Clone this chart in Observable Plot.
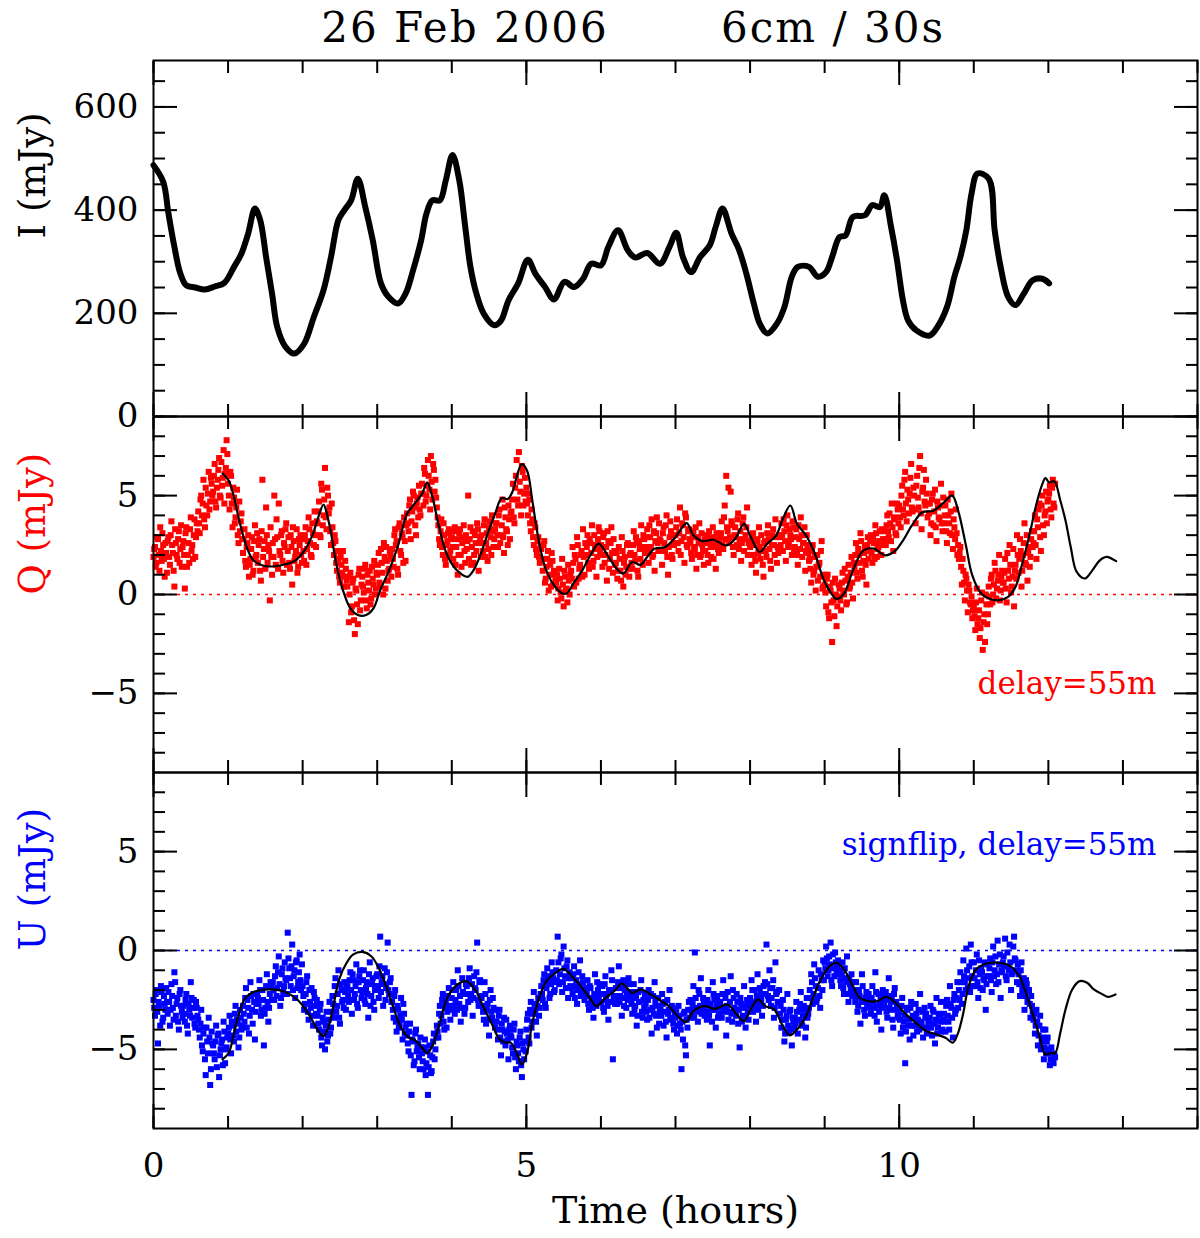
<!DOCTYPE html>
<html>
<head>
<meta charset="utf-8">
<script src="https://cdn.jsdelivr.net/npm/d3@7"></script>
<script src="https://cdn.jsdelivr.net/npm/@observablehq/plot@0.6"></script>
<style>
  body { margin: 0; background: #fff; }
  #chart { position: relative; width: 1200px; height: 1238px; font-family: "DejaVu Serif", serif; color: #000; }
  #chart svg { position: absolute; left: 0; overflow: visible; }
  .title { position: absolute; top: 7px; width: 400px; text-align: center; font-size: 42px; line-height: 42px; letter-spacing: 2px; white-space: pre; }
</style>
</head>
<body>
<div id="chart">
  <div class="title" style="left:265px">26 Feb 2006</div>
  <div class="title" style="left:633px">6cm / 30s</div>
</div>
<script>
// hours axis
const hourTicks = [0, 5, 10]
const hourMinor = [0, 1, 2, 3, 4, 5, 6, 7, 8, 9, 10, 11, 12, 13, 14]
const iTicks = [0, 200, 400, 600]
const iMinor = [0, 50, 100, 150, 200, 250, 300, 350, 400, 450, 500, 550, 600, 650]
const polTicks = [-5, 0, 5]
const polMinor = [-8, -7, -6, -5, -4, -3, -2, -1, 0, 1, 2, 3, 4, 5, 6, 7, 8]

// total intensity, [hours, mJy]
const iCurve = [
  [0,487],[0.13,455],[0.2,394],[0.28,329],[0.36,277],[0.44,254],[0.56,250],[0.69,246],[0.82,252],[0.95,259],
  [1.08,290],[1.18,316],[1.27,355],[1.36,403],[1.43,381],[1.51,309],[1.59,238],[1.66,173],[1.77,135],[1.89,122],
  [2.02,141],[2.15,193],[2.28,245],[2.38,309],[2.48,381],[2.56,400],[2.65,419],[2.74,461],[2.84,406],[2.94,342],
  [3.05,258],[3.15,232],[3.28,219],[3.38,238],[3.48,283],[3.59,342],[3.66,393],[3.74,419],[3.84,419],[3.92,458],
  [4.01,507],[4.10,458],[4.18,368],[4.25,290],[4.33,238],[4.43,199],[4.57,177],[4.66,186],[4.76,225],[4.89,258],
  [5.02,304],[5.12,277],[5.25,251],[5.37,227],[5.51,261],[5.64,251],[5.76,267],[5.87,296],[6.0,293],[6.10,329],
  [6.23,361],[6.36,322],[6.46,308],[6.62,317],[6.79,296],[6.92,329],[7.01,356],[7.10,309],[7.21,280],[7.33,309],
  [7.46,332],[7.54,368],[7.63,403],[7.75,355],[7.85,324],[7.95,277],[8.05,219],[8.13,180],[8.23,161],[8.36,180],
  [8.46,212],[8.56,271],[8.64,290],[8.79,290],[8.91,271],[9.02,280],[9.10,309],[9.20,348],[9.28,351],[9.38,387],
  [9.54,390],[9.64,410],[9.74,406],[9.80,429],[9.89,368],[9.97,303],[10.05,225],[10.12,186],[10.23,167],[10.41,157],
  [10.51,173],[10.64,212],[10.74,271],[10.82,309],[10.90,361],[10.97,432],[11.05,471],[11.20,461],[11.28,361],[11.36,290],
  [11.46,232],[11.56,216],[11.67,238],[11.79,264],[11.92,267],[12.01,258]
]

// delayed model curves, [hours, mJy]
const qModel = [
  [0.925,6.12],[1.01,5.75],[1.08,4.92],[1.15,3.74],[1.25,2.40],[1.34,1.73],[1.49,1.44],[1.63,1.43],[1.77,1.53],[1.89,1.69],
  [2.01,2.15],[2.13,2.99],[2.21,3.91],[2.28,4.55],[2.32,4.16],[2.39,2.90],[2.45,1.56],[2.54,0.22],[2.64,-0.70],[2.74,-1.04],
  [2.85,-1.04],[2.95,-0.70],[3.04,0.22],[3.16,1.22],[3.28,2.48],[3.40,4.08],[3.50,4.58],[3.60,5.08],[3.67,5.67],[3.74,4.92],
  [3.83,3.41],[3.93,2.06],[4.03,1.39],[4.12,1.06],[4.21,0.89],[4.29,1.22],[4.39,2.06],[4.48,3.07],[4.58,4.08],[4.67,4.88],
  [4.75,4.83],[4.82,5.25],[4.88,6.09],[4.94,6.59],[5.01,6.26],[5.08,4.75],[5.15,3.07],[5.25,1.39],[5.37,0.47],[5.47,0.08],
  [5.54,0.05],[5.63,0.55],[5.75,1.22],[5.87,2.06],[5.97,2.57],[6.09,1.98],[6.21,1.31],[6.30,1.06],[6.42,1.64],[6.53,1.50],
  [6.62,1.90],[6.72,2.32],[6.86,2.40],[7.00,2.90],[7.15,3.61],[7.24,2.99],[7.36,2.70],[7.51,2.77],[7.68,2.48],[7.80,2.82],
  [7.92,3.57],[8.01,2.90],[8.13,2.15],[8.23,2.57],[8.35,2.99],[8.44,3.83],[8.54,4.50],[8.63,3.57],[8.75,2.99],[8.87,2.06],
  [8.99,0.72],[9.09,0.05],[9.16,-0.23],[9.26,0.05],[9.38,1.22],[9.52,2.23],[9.66,2.32],[9.81,1.98],[9.93,2.15],[10.05,2.73],
  [10.17,3.49],[10.31,4.16],[10.46,4.24],[10.60,4.66],[10.71,5.00],[10.79,4.24],[10.89,2.57],[10.98,0.97],[11.10,0.05],[11.22,-0.23],
  [11.34,-0.29],[11.46,-0.12],[11.56,0.39],[11.65,1.56],[11.75,3.07],[11.84,4.58],[11.92,5.59],[11.96,5.89],[12.01,5.67],[12.08,5.72],
  [12.16,4.75],[12.23,3.74],[12.30,2.40],[12.38,1.14],[12.49,0.81],[12.59,1.22],[12.68,1.69],[12.78,1.90],[12.85,1.81],[12.91,1.69]
]
const uModel = [
  [0.925,-5.5],[1.01,-5.17],[1.08,-4.16],[1.15,-3.15],[1.22,-2.47],[1.32,-2.14],[1.44,-2.00],[1.58,-1.97],[1.73,-2.05],[1.87,-2.31],
  [1.99,-2.73],[2.11,-3.40],[2.21,-4.07],[2.28,-4.33],[2.35,-3.82],[2.42,-2.64],[2.49,-1.46],[2.59,-0.62],[2.68,-0.20],[2.80,-0.07],
  [2.92,-0.29],[3.02,-0.88],[3.12,-1.80],[3.21,-2.81],[3.31,-3.82],[3.40,-4.33],[3.52,-4.58],[3.62,-5.00],[3.67,-5.20],[3.74,-4.83],
  [3.84,-3.65],[3.93,-2.47],[4.05,-1.80],[4.19,-1.55],[4.31,-1.97],[4.43,-2.90],[4.55,-3.82],[4.64,-4.49],[4.72,-4.66],[4.79,-4.66],
  [4.87,-5.17],[4.94,-5.76],[5.01,-5.17],[5.08,-3.65],[5.18,-2.31],[5.27,-1.55],[5.39,-1.13],[5.50,-0.93],[5.61,-1.30],[5.73,-1.80],
  [5.85,-2.39],[5.94,-2.81],[6.04,-2.47],[6.18,-2.05],[6.28,-1.67],[6.42,-2.14],[6.53,-1.97],[6.67,-2.22],[6.81,-2.56],[6.91,-2.81],
  [7.03,-3.32],[7.14,-3.62],[7.24,-3.06],[7.39,-2.81],[7.53,-2.95],[7.70,-2.73],[7.82,-3.23],[7.92,-3.57],[8.01,-2.95],[8.11,-2.47],
  [8.20,-2.81],[8.32,-2.98],[8.44,-3.82],[8.53,-4.29],[8.63,-3.99],[8.75,-3.32],[8.87,-2.14],[8.97,-1.30],[9.07,-0.79],[9.16,-0.62],
  [9.26,-0.96],[9.38,-1.80],[9.47,-2.39],[9.59,-2.56],[9.71,-2.56],[9.83,-2.34],[9.95,-2.64],[10.07,-3.15],[10.22,-3.65],[10.36,-4.07],
  [10.50,-4.24],[10.62,-4.41],[10.72,-4.66],[10.79,-4.16],[10.86,-3.15],[10.93,-1.80],[11.03,-0.96],[11.17,-0.66],[11.34,-0.62],[11.49,-0.79],
  [11.61,-1.30],[11.70,-2.14],[11.80,-3.32],[11.88,-4.33],[11.96,-5.25],[12.04,-5.17],[12.09,-5.20],[12.16,-4.16],[12.23,-2.98],[12.32,-1.97],
  [12.42,-1.55],[12.52,-1.63],[12.61,-1.97],[12.73,-2.22],[12.80,-2.34],[12.90,-2.22]
]

// polarised samples: the "A" set starts at t = 0, the "B" set half a step later
const sampleStep = 0.02
const qValuesA = [
  1.9,2.4,1.6,2.8,1.2,2.2,3.1,1.8,2.6,1.1,
  2.9,1.5,3.7,2.1,0.4,2.6,1.8,3.2,2.3,1.4,
  2.7,0.3,3.4,2.0,1.6,3.9,2.5,3.0,1.9,3.6,
  4.2,3.1,5.0,4.6,3.8,5.4,4.0,6.2,4.7,5.6,
  5.2,6.6,4.4,5.8,6.9,4.9,5.5,7.3,6.1,7.8,
  5.6,4.3,6.0,3.4,4.9,3.9,5.3,2.6,3.2,4.1,
  2.1,3.3,1.4,2.6,0.9,1.8,2.9,1.2,3.5,2.0,
  1.6,2.8,0.7,5.8,2.3,1.3,3.0,2.5,-0.3,1.9,
  2.6,5.0,1.5,2.9,4.6,2.0,3.2,1.1,2.4,3.6,
  2.2,1.6,3.0,0.5,2.7,1.9,3.3,1.4,2.5,2.0,
  2.8,1.7,3.4,2.3,3.9,2.6,1.9,3.1,4.2,2.4,
  3.6,4.7,2.9,5.3,4.0,6.4,3.3,5.0,4.4,2.5,
  3.4,2.0,2.7,1.2,1.8,0.6,1.5,2.2,0.9,1.3,
  0.4,-1.4,1.1,-0.6,0.8,-2.0,0.2,-1.5,1.3,-0.3,
  0.9,0.1,1.5,-0.7,0.6,1.2,-0.2,0.8,1.7,0.3,
  1.0,2.1,0.4,1.6,0.0,1.9,2.4,0.7,1.3,2.0,
  2.3,1.4,3.3,2.7,1.0,3.6,2.0,2.9,3.9,1.7,
  4.1,3.2,4.8,3.7,5.2,4.4,3.0,4.9,5.5,4.0,
  5.6,4.5,6.1,5.0,6.8,5.3,7.0,4.8,6.3,5.8,
  4.4,3.5,2.5,3.8,2.0,3.0,1.5,2.7,3.3,2.2,
  2.9,1.8,3.4,2.4,1.0,3.1,2.0,2.6,3.5,1.6,
  2.3,5.0,2.8,1.5,3.2,2.0,2.6,3.6,1.2,2.9,
  3.0,2.2,3.8,2.6,1.7,3.4,2.9,4.0,2.4,3.3,
  3.6,2.4,4.3,3.0,4.8,2.1,3.9,3.2,4.5,2.8,
  4.2,5.6,3.6,6.0,4.8,7.2,5.2,6.5,4.5,5.9,
  5.4,4.0,4.8,3.2,3.8,2.5,3.4,2.0,2.9,1.6,
  2.3,1.2,2.7,0.8,1.8,0.2,1.5,2.1,0.5,1.0,
  0.6,-0.3,1.3,0.1,1.8,-0.6,0.9,0.3,1.5,0.0,
  1.2,2.4,0.4,1.8,2.9,0.8,1.5,2.2,3.3,1.0,
  2.0,3.0,1.3,2.6,3.5,1.7,2.3,0.9,2.8,3.2,
  2.5,1.4,3.1,2.0,0.7,2.7,1.8,3.4,1.1,2.2,
  1.6,0.8,2.4,1.2,2.9,0.4,1.9,1.4,2.6,0.9,
  2.1,1.3,3.2,1.7,2.6,0.9,2.3,3.5,1.5,2.8,
  2.4,3.3,1.6,2.9,3.8,2.0,1.2,3.1,2.6,3.6,
  2.7,1.5,3.4,2.2,4.0,1.0,2.9,3.2,1.8,2.5,
  3.0,3.8,2.2,4.4,2.7,3.5,1.6,3.9,2.4,3.3,
  2.6,1.8,3.2,2.3,1.3,2.9,3.6,2.0,2.5,1.5,
  2.2,3.0,1.6,2.7,1.9,3.4,2.4,1.3,2.8,2.1,
  2.9,3.7,2.3,4.5,6.0,3.2,2.6,5.2,3.5,2.0,
  3.4,2.5,4.1,2.8,1.7,3.6,2.2,3.0,4.4,2.6,
  2.4,1.5,3.1,2.0,1.1,2.7,3.4,1.8,2.2,0.9,
  2.7,1.9,3.5,2.3,1.3,3.0,2.5,3.8,1.6,2.1,
  2.9,3.6,2.2,3.2,1.7,4.0,2.6,3.0,2.0,3.4,
  2.4,3.3,1.5,2.8,3.9,1.9,2.6,1.2,3.0,2.1,
  1.8,0.6,2.5,1.2,0.2,2.0,1.5,0.9,2.7,0.4,
  0.5,-0.6,1.0,-1.2,0.2,-2.4,-0.3,0.8,-1.6,-0.1,
  0.3,-0.8,1.1,0.0,0.7,-0.4,1.5,0.4,1.9,-0.2,
  1.4,2.6,0.8,2.0,3.1,1.2,1.7,2.4,0.5,2.9,
  2.2,3.0,1.6,2.6,3.5,1.9,2.4,3.2,2.0,2.8,
  3.2,2.5,4.0,2.9,3.6,4.6,2.2,3.8,3.0,4.3,
  4.5,3.4,5.5,4.0,6.2,3.7,4.8,5.1,6.6,4.2,
  5.0,3.6,6.0,4.4,7.0,3.3,5.4,4.7,5.8,3.9,
  4.1,3.0,4.8,3.5,5.3,2.7,4.4,3.8,5.6,3.2,
  3.6,4.5,2.6,4.0,3.1,5.1,2.3,3.4,4.3,2.0,
  1.8,2.4,0.5,1.2,-0.3,0.8,-0.9,0.2,-0.5,-1.2,
  -0.6,-1.8,0.3,-1.2,-2.2,-0.3,-2.8,-1.0,0.0,-1.5,
  0.4,-0.5,1.0,0.0,1.6,-0.2,0.7,2.0,0.2,1.2,
  0.6,1.8,-0.4,1.2,2.5,0.1,0.9,-0.6,1.5,3.0,
  1.1,2.8,0.4,2.0,3.6,1.5,0.7,2.4,1.9,3.2,
  2.6,4.0,1.8,3.4,4.6,2.2,5.0,3.0,4.2,3.6,
  4.8,5.5,3.9,5.8,4.4
]
const qValuesB = [
  2.3,1.4,2.9,2.0,3.4,1.7,2.5,0.9,2.1,2.7,
  1.9,3.0,2.5,1.2,3.3,2.0,2.8,1.6,3.5,2.4,
  2.0,3.1,1.4,2.6,3.3,2.2,1.8,3.8,2.9,3.2,
  3.6,4.8,4.0,5.8,3.4,4.5,5.1,4.3,5.9,5.0,
  6.0,4.7,5.4,6.3,5.0,6.7,5.9,4.6,6.4,7.1,
  5.0,6.2,4.6,5.4,3.6,4.4,3.0,4.7,3.7,2.8,
  2.8,1.7,2.4,3.0,1.5,2.3,1.0,2.7,1.9,3.1,
  2.5,1.2,3.2,1.9,2.7,4.4,1.6,2.2,3.4,1.0,
  1.9,2.8,3.8,1.3,2.2,3.0,1.7,2.6,3.3,1.5,
  2.9,1.3,2.4,3.4,1.7,2.2,1.1,2.8,3.0,1.6,
  2.2,3.0,1.5,2.7,3.3,2.0,3.6,2.5,3.0,3.7,
  4.2,3.0,5.6,3.5,4.8,3.9,5.4,4.1,3.2,4.6,
  2.6,3.0,1.6,2.2,0.9,1.9,1.1,0.4,1.7,0.7,
  0.9,0.0,-0.9,0.6,-1.3,0.3,-0.5,1.0,-0.8,0.5,
  0.4,1.3,-0.3,1.0,0.2,-0.5,1.4,0.5,0.0,1.1,
  1.5,0.6,2.3,1.1,2.6,0.3,1.7,1.2,2.2,0.9,
  1.8,3.0,2.5,1.3,3.4,2.2,3.1,1.6,2.7,3.5,
  3.6,4.5,2.8,4.2,5.0,3.5,4.6,3.9,4.3,5.1,
  5.1,6.4,4.7,5.5,6.0,4.3,5.7,6.6,5.2,4.9,
  3.9,2.8,3.2,2.4,3.6,1.8,2.5,3.1,2.0,2.8,
  2.4,3.2,1.5,2.8,2.0,3.3,1.4,2.9,2.2,3.0,
  2.7,1.8,3.4,2.4,1.6,3.0,2.2,3.3,2.6,1.9,
  2.6,3.5,1.9,3.1,2.3,3.7,2.0,3.2,2.8,3.6,
  3.0,4.0,2.6,3.5,2.9,4.4,3.3,2.5,3.8,4.1,
  4.8,3.9,5.4,6.8,4.5,5.7,4.0,6.2,5.1,4.7,
  4.6,5.1,3.6,4.3,2.9,3.6,2.3,2.7,1.9,2.4,
  1.8,2.5,0.6,1.4,2.2,1.0,0.4,1.7,1.2,0.7,
  1.0,0.3,0.8,-0.2,0.5,1.2,0.2,-0.4,0.7,1.0,
  0.8,1.6,2.0,0.6,2.5,1.3,2.0,0.9,1.9,2.6,
  2.4,1.6,2.8,2.1,1.4,3.0,2.5,1.9,3.4,2.2,
  2.0,2.9,1.6,2.4,3.2,1.3,2.6,2.1,2.8,1.5,
  2.1,1.2,1.8,0.7,2.2,1.6,1.0,2.5,1.3,2.0,
  1.6,2.5,2.0,2.9,1.2,2.7,1.8,2.4,3.0,2.1,
  2.9,2.1,3.5,2.4,1.9,3.2,2.7,3.9,2.2,2.8,
  2.2,3.1,2.6,3.5,1.9,2.4,3.7,2.0,3.0,2.6,
  3.4,2.6,3.1,2.0,3.6,2.9,4.1,2.5,3.2,2.8,
  2.1,2.9,2.4,3.4,2.0,2.6,1.9,3.1,2.2,2.8,
  2.6,2.0,3.2,2.4,2.9,1.8,2.7,3.1,2.3,2.6,
  3.1,2.5,3.9,2.8,3.4,5.4,2.9,3.7,2.4,3.0,
  2.9,3.8,2.3,3.2,2.6,3.9,2.8,3.4,2.0,2.7,
  2.0,2.9,2.5,1.7,2.8,2.1,2.4,3.0,1.5,2.6,
  2.2,3.1,2.8,1.7,2.5,3.3,2.0,2.9,2.4,3.0,
  2.5,3.0,3.8,2.7,3.5,2.4,3.3,2.8,3.7,2.3,
  2.9,2.0,3.5,2.3,3.0,2.6,3.4,2.2,2.5,1.7,
  1.3,2.2,1.0,1.9,1.4,0.7,1.6,2.2,0.3,1.0,
  0.1,0.8,-0.9,0.4,-0.4,0.6,-1.1,0.0,-0.6,0.5,
  -0.3,0.6,0.2,1.3,-0.5,0.9,0.3,1.1,0.6,1.6,
  2.0,1.1,2.3,1.6,2.7,0.9,2.1,1.5,2.5,1.8,
  2.7,2.1,2.9,1.8,3.1,2.3,2.7,2.0,3.3,2.5,
  2.8,3.5,3.2,4.1,2.7,3.4,3.9,3.1,4.6,3.6,
  3.9,5.0,4.3,5.8,4.6,5.3,4.1,5.9,4.4,5.4,
  4.3,5.5,4.9,6.4,4.1,5.2,6.3,4.5,5.1,4.6,
  4.6,3.6,5.1,4.2,3.4,4.7,3.9,4.5,3.6,4.9,
  4.0,3.2,4.8,3.6,4.2,3.0,3.8,2.8,3.1,2.5,
  2.1,1.4,1.8,0.6,1.0,0.2,0.5,-0.4,-0.1,-0.8,
  -1.1,-0.4,-1.5,-0.8,-1.7,0.1,-1.4,-2.4,-0.5,-1.0,
  -0.1,0.8,-0.4,0.5,1.2,0.3,1.0,-0.3,0.9,0.6,
  1.1,0.3,2.1,0.8,1.5,0.4,2.3,1.2,0.8,2.0,
  1.8,2.2,1.2,2.6,1.6,3.0,2.1,1.4,2.8,2.4,
  3.2,2.5,3.8,4.3,2.9,4.5,3.5,4.0,5.2,4.7,
  5.1,4.3,5.4,4.6,5.6
]
const uValuesA = [
  -2.5,-3.3,-2.0,-4.7,-2.8,-1.8,-3.6,-2.3,-3.0,-2.6,
  -2.1,-3.8,-1.7,-2.9,-1.1,-3.3,-2.4,-4.0,-2.0,-3.1,
  -2.8,-3.6,-2.2,-4.2,-3.0,-1.6,-3.4,-2.5,-3.9,-2.9,
  -3.5,-4.4,-3.0,-5.1,-3.9,-6.3,-4.6,-3.4,-6.8,-4.1,
  -4.8,-5.5,-3.8,-4.3,-6.4,-5.0,-4.5,-3.6,-5.7,-4.9,
  -4.2,-3.3,-5.2,-3.8,-4.6,-2.8,-3.5,-4.9,-3.0,-4.0,
  -2.8,-3.6,-1.9,-2.5,-4.2,-1.6,-3.0,-2.2,-4.5,-2.7,
  -2.4,-1.5,-3.3,-2.0,-4.8,-2.9,-1.2,-3.6,-2.2,-1.8,
  -1.6,-2.5,-0.8,-1.9,-0.3,-2.8,-1.2,-2.1,-0.6,-1.5,
  0.9,-0.9,-1.8,0.3,-1.3,-2.4,-0.5,-1.6,-0.2,-2.0,
  -1.8,-3.0,-2.2,-1.3,-3.5,-2.6,-1.9,-3.8,-2.4,-3.2,
  -3.3,-4.0,-2.7,-4.8,-3.6,-5.0,-3.1,-4.3,-2.6,-3.9,
  -2.3,-3.4,-1.4,-2.8,-1.0,-3.7,-2.0,-2.5,-1.6,-3.0,
  -1.8,-2.6,-1.1,-3.2,-1.5,-2.2,-0.7,-2.9,-1.3,-2.0,
  -2.1,-1.0,-2.7,-1.6,-3.4,-0.6,-2.3,-1.4,-3.0,-1.8,
  -1.2,-2.4,0.7,-1.6,-2.8,-0.9,-1.9,0.4,-2.2,-1.4,
  -2.6,-3.4,-2.0,-4.1,-3.0,-3.7,-2.4,-4.5,-3.2,-3.9,
  -4.3,-5.1,-3.7,-7.3,-4.6,-5.6,-4.0,-4.9,-5.4,-4.4,
  -5.2,-6.0,-4.5,-5.7,-7.3,-4.8,-6.2,-5.4,-4.2,-5.0,
  -3.8,-4.4,-2.8,-3.3,-2.2,-4.0,-2.6,-3.1,-1.9,-3.5,
  -2.4,-1.6,-3.2,-2.0,-1.0,-2.7,-3.6,-1.4,-2.2,-2.9,
  -1.8,-2.6,-0.9,-2.2,-3.3,-1.3,-2.0,0.4,-2.8,-1.5,
  -2.4,-3.1,-1.6,-3.7,-2.7,-4.3,-2.0,-3.4,-2.9,-3.9,
  -3.6,-4.5,-3.0,-5.3,-4.0,-3.4,-4.8,-4.2,-5.5,-3.8,
  -4.4,-5.2,-3.7,-6.0,-4.8,-5.6,-4.1,-6.4,-5.0,-4.6,
  -4.0,-3.2,-4.7,-2.6,-3.6,-2.1,-3.0,-4.3,-2.4,-2.9,
  -1.8,-2.5,-1.2,-2.9,-0.9,-1.6,-2.2,-0.6,-1.4,-2.0,
  -1.0,0.7,-1.7,-0.4,-2.1,0.2,-1.3,-0.8,-2.4,-1.1,
  -1.4,-2.2,-0.8,-1.8,-2.7,-1.1,-0.5,-2.0,-1.6,-2.5,
  -2.3,-1.5,-3.0,-1.9,-2.6,-3.4,-1.2,-2.8,-2.0,-1.7,
  -2.6,-1.8,-3.1,-1.3,-2.2,-3.5,-2.0,-1.0,-5.5,-2.4,
  -1.9,-2.7,-0.8,-2.3,-3.3,-1.5,-2.0,-2.9,-2.5,-1.7,
  -2.4,-3.2,-1.7,-2.8,-3.8,-2.1,-2.6,-1.5,-3.4,-2.9,
  -2.7,-3.5,-2.0,-3.0,-4.2,-2.3,-1.6,-3.3,-2.8,-3.7,
  -3.0,-2.2,-3.8,-2.6,-4.4,-3.2,-2.0,-3.5,-2.9,-4.0,
  -3.4,-4.2,-2.8,-3.7,-6.0,-4.5,-3.1,-5.3,-3.9,-2.6,
  -2.5,-3.3,-1.8,-0.1,-2.9,-3.6,-2.2,-1.4,-3.0,-2.7,
  -2.8,-3.5,-2.0,-4.8,-3.0,-1.6,-2.5,-3.9,-2.3,-3.2,
  -2.6,-3.4,-1.5,-2.9,-4.3,-2.1,-3.1,-1.3,-3.6,-2.4,
  -3.0,-2.2,-3.7,-4.9,-2.7,-3.3,-1.8,-3.9,-2.5,-3.5,
  -2.4,-1.5,-3.1,-2.0,-3.6,-1.2,-2.7,-2.2,-3.3,-1.8,
  -1.6,0.3,-2.3,-1.0,-2.8,-1.9,-3.4,-0.6,-2.1,-2.6,
  -3.2,-3.9,-2.5,-4.6,-3.5,-2.2,-4.1,-3.0,-4.8,-3.6,
  -3.4,-2.6,-4.2,-3.0,-2.1,-3.8,-2.8,-4.4,-2.4,-3.2,
  -2.0,-1.2,-2.7,-0.7,-1.8,-2.4,-1.0,-2.9,-1.5,-0.5,
  -0.6,0.2,-1.3,-0.3,0.4,-1.8,-0.9,-0.1,-1.1,-0.5,
  -1.0,-1.8,-0.6,-2.2,-1.4,-0.3,-2.6,-1.7,-1.2,-2.0,
  -2.3,-1.6,-3.1,-2.0,-3.7,-1.2,-2.6,-3.3,-2.1,-2.8,
  -2.5,-3.2,-1.8,-2.9,-1.1,-3.6,-2.2,-2.7,-4.0,-2.0,
  -2.8,-2.1,-3.4,-1.4,-3.0,-2.5,-3.9,-1.9,-2.6,-3.3,
  -3.1,-4.2,-2.4,-3.6,-5.7,-2.9,-3.8,-4.5,-2.6,-3.3,
  -3.4,-2.7,-4.1,-3.0,-2.2,-3.7,-4.4,-2.9,-3.2,-3.9,
  -3.6,-2.8,-4.3,-3.1,-4.7,-2.4,-3.9,-3.3,-2.6,-4.0,
  -3.2,-4.1,-2.5,-3.6,-1.8,-2.9,-4.4,-2.2,-3.0,-1.6,
  -2.0,-1.1,-2.7,-0.5,-1.6,0.1,-1.9,-0.8,0.3,-1.3,
  -0.6,-1.8,-0.2,-2.4,-1.2,-0.9,-2.0,-1.5,-3.0,-0.7,
  -1.3,-0.4,-2.1,0.2,-1.0,-1.7,0.5,-0.7,-2.4,-1.1,
  -0.3,0.6,-1.5,-0.8,0.3,-2.0,-1.1,0.7,-0.5,-1.6,
  -1.2,-2.3,-0.6,-1.8,-3.0,-1.5,-2.6,-2.0,-3.4,-2.8,
  -3.5,-4.2,-3.0,-4.8,-3.8,-5.0,-4.4,-5.5,-4.0,-4.6,
  -5.2,-5.8,-4.9,-5.6,-5.3
]
const uValuesB = [
  -2.9,-2.2,-3.1,-2.6,-3.8,-2.1,-3.4,-2.7,-1.9,-3.2,
  -2.6,-3.0,-2.3,-3.5,-1.6,-2.7,-3.6,-2.2,-2.8,-3.4,
  -3.2,-2.5,-3.8,-2.7,-3.3,-2.4,-2.9,-3.7,-2.6,-3.3,
  -4.0,-3.7,-4.8,-4.2,-5.5,-3.9,-5.2,-4.4,-6.0,-4.7,
  -5.2,-4.6,-5.9,-4.2,-5.3,-4.7,-5.8,-4.1,-5.0,-4.4,
  -3.9,-4.5,-3.6,-4.3,-3.2,-4.1,-3.7,-4.4,-3.4,-3.8,
  -3.2,-2.4,-3.9,-2.9,-3.3,-2.3,-3.7,-2.6,-3.1,-2.2,
  -2.7,-2.0,-3.0,-2.5,-3.2,-1.8,-2.6,-2.9,-1.6,-2.5,
  -2.0,-1.3,-2.3,-1.1,-1.7,-2.4,-0.9,-1.8,-1.4,-2.2,
  -0.4,-1.4,-0.8,-2.0,-1.0,-0.6,-1.9,-1.1,-1.5,-0.7,
  -2.3,-2.7,-1.6,-3.1,-2.0,-2.9,-3.3,-2.1,-2.8,-2.5,
  -3.7,-3.0,-4.4,-3.4,-4.1,-3.8,-4.6,-3.5,-4.2,-3.1,
  -2.7,-1.8,-3.1,-2.2,-3.4,-1.7,-2.6,-2.9,-2.1,-1.9,
  -2.3,-1.5,-2.0,-1.2,-2.5,-1.8,-2.7,-1.6,-1.0,-2.4,
  -1.5,-2.5,-1.9,-2.2,-1.2,-2.8,-1.7,-2.6,-2.0,-1.3,
  -1.8,-0.8,-2.1,-1.3,-1.7,-2.5,-1.1,-2.0,-1.6,-2.6,
  -3.0,-2.3,-3.6,-2.8,-3.9,-3.3,-3.5,-2.7,-4.2,-3.7,
  -4.7,-4.1,-5.3,-4.5,-5.8,-4.2,-5.1,-4.7,-6.0,-4.9,
  -5.6,-4.9,-6.3,-5.1,-5.9,-5.3,-6.1,-4.6,-5.5,-4.4,
  -4.1,-3.2,-3.7,-2.5,-3.6,-2.9,-3.9,-2.3,-2.8,-3.0,
  -2.0,-2.8,-2.5,-3.0,-1.8,-2.3,-2.9,-2.1,-3.2,-1.7,
  -2.2,-1.4,-2.5,-1.7,-2.4,-1.9,-1.1,-2.5,-1.6,-2.3,
  -2.8,-3.5,-2.2,-3.0,-3.5,-2.5,-3.1,-2.4,-3.6,-3.0,
  -4.0,-3.3,-4.4,-3.7,-4.6,-4.1,-3.5,-4.5,-4.0,-4.3,
  -4.9,-4.0,-5.4,-4.6,-5.2,-4.4,-5.8,-4.7,-5.5,-5.1,
  -3.5,-4.4,-3.0,-3.9,-3.2,-2.7,-3.6,-2.8,-3.3,-2.2,
  -2.2,-1.5,-2.7,-1.9,-1.3,-2.4,-1.7,-1.1,-2.1,-1.6,
  -1.5,-0.6,-1.2,-0.2,-1.6,-0.9,-1.9,-0.5,-1.4,-1.8,
  -1.9,-1.2,-2.4,-1.5,-2.0,-1.7,-2.3,-1.3,-2.1,-1.9,
  -2.1,-2.7,-1.8,-2.4,-2.9,-2.2,-2.5,-1.6,-2.3,-2.6,
  -2.2,-2.9,-1.7,-2.5,-2.8,-2.0,-2.6,-1.5,-2.3,-2.7,
  -2.3,-1.6,-2.6,-1.9,-2.4,-2.8,-1.7,-2.2,-1.4,-2.1,
  -2.7,-2.1,-3.0,-2.4,-3.3,-2.6,-2.0,-3.1,-2.5,-2.2,
  -3.1,-2.5,-3.4,-2.2,-2.9,-3.2,-2.6,-3.9,-2.4,-3.0,
  -3.3,-2.7,-3.1,-3.6,-2.5,-3.0,-3.4,-2.8,-3.7,-3.2,
  -3.0,-3.8,-3.3,-4.0,-3.6,-3.2,-4.8,-3.5,-3.0,-3.4,
  -3.0,-2.7,-3.4,-2.4,-3.1,-2.0,-2.8,-3.2,-2.4,-3.3,
  -3.1,-2.5,-3.3,-2.7,-3.6,-2.2,-3.0,-2.8,-3.4,-2.6,
  -2.9,-2.2,-3.1,-2.4,-2.8,-3.5,-2.6,-3.2,-2.0,-2.9,
  -3.3,-2.6,-3.0,-2.4,-3.6,-2.9,-3.4,-2.8,-3.1,-2.7,
  -2.8,-2.0,-2.6,-2.9,-2.3,-3.0,-1.9,-2.5,-2.8,-2.2,
  -2.2,-1.7,-2.5,-1.9,-2.4,-1.5,-2.9,-2.2,-2.6,-2.0,
  -2.8,-3.5,-3.0,-4.2,-3.3,-3.8,-3.1,-4.0,-3.4,-3.9,
  -3.7,-3.1,-3.5,-2.7,-3.6,-3.3,-3.0,-3.9,-3.4,-2.9,
  -2.4,-1.6,-2.2,-1.4,-2.6,-1.9,-2.3,-1.2,-2.0,-1.5,
  -0.9,-0.4,-1.0,-0.7,-1.5,-0.2,-1.3,-0.6,-0.8,-1.2,
  -1.5,-1.2,-1.9,-0.9,-1.6,-2.2,-1.4,-1.9,-2.3,-1.6,
  -2.6,-2.0,-2.8,-2.3,-2.5,-1.8,-3.0,-2.4,-2.7,-2.2,
  -2.9,-2.4,-2.6,-3.3,-2.1,-2.8,-3.1,-2.5,-2.9,-2.3,
  -2.5,-3.1,-2.3,-2.9,-2.6,-3.5,-2.2,-3.0,-2.8,-3.4,
  -3.5,-2.8,-3.9,-3.3,-4.1,-3.0,-3.5,-2.9,-3.8,-4.3,
  -3.8,-3.2,-3.5,-4.0,-3.6,-3.1,-3.9,-3.4,-4.2,-3.6,
  -3.4,-3.9,-3.0,-3.7,-3.5,-4.2,-3.2,-3.6,-4.1,-3.5,
  -3.6,-2.8,-3.3,-4.0,-2.7,-3.4,-2.5,-3.2,-2.4,-2.9,
  -2.5,-1.6,-2.2,-1.3,-2.0,-1.0,-1.4,-2.1,-0.6,-1.8,
  -1.4,-1.0,-1.6,-0.5,-1.9,-1.1,-1.4,-0.6,-1.7,-1.3,
  -0.9,-1.5,-0.6,-1.3,-0.3,-1.2,-1.6,-0.2,-1.0,-0.6,
  -0.8,-1.3,-0.1,-1.0,-0.6,-1.2,0.2,-0.4,-1.0,-0.7,
  -1.7,-1.0,-2.0,-1.4,-2.3,-1.7,-2.0,-2.7,-2.3,-3.1,
  -3.2,-3.8,-3.6,-4.3,-3.3,-4.6,-4.0,-4.9,-5.2,-4.4,
  -5.0,-5.5,-5.2,-5.7,-5.4
]

const samples = (a, b) => [
  ...a.map((v, i) => ({t: i * sampleStep, v})),
  ...b.map((v, i) => ({t: (i + 0.5) * sampleStep, v}))
]
const qPoints = samples(qValuesA, qValuesB)
const uPoints = samples(uValuesA, uValuesB)

const red = "#ff0000"
const blue = "#0000ff"
const frameTop = 10
const panelHeight = 356

function frameTicks(yMajor, yMinor) {
  const tick = {fill: "none", strokeWidth: 2, label: null}
  return [
    Plot.axisX(hourMinor, {...tick, anchor: "bottom", tickSize: 12, dy: -12}),
    Plot.axisX(hourTicks, {...tick, anchor: "bottom", tickSize: 24, dy: -24}),
    Plot.axisX(hourMinor, {...tick, anchor: "top", tickSize: 12, dy: 12}),
    Plot.axisX(hourTicks, {...tick, anchor: "top", tickSize: 24, dy: 24}),
    Plot.axisY(yMinor, {...tick, anchor: "left", tickSize: 12, dx: 12}),
    Plot.axisY(yMajor, {...tick, anchor: "left", tickSize: 24, dx: 24}),
    Plot.axisY(yMinor, {...tick, anchor: "right", tickSize: 12, dx: -12}),
    Plot.axisY(yMajor, {...tick, anchor: "right", tickSize: 24, dx: -24}),
    Plot.axisY(yMajor, {anchor: "left", tickSize: 0, tickPadding: 15, fontSize: 34, label: null}),
    Plot.frame({strokeWidth: 2})
  ]
}

function panel(yDomain, yMajor, yMinor, marginBottom, marks) {
  return Plot.plot({
    width: 1200,
    height: frameTop + panelHeight + marginBottom,
    marginTop: frameTop,
    marginBottom,
    marginLeft: 153,
    marginRight: 3,
    x: {domain: [0, 14]},
    y: {domain: yDomain},
    style: {background: "transparent", fontFamily: "'DejaVu Serif', serif", color: "black", overflow: "visible"},
    marks: [...marks, ...frameTicks(yMajor, yMinor)]
  })
}

function yTitle(label, color) {
  return Plot.text([label], {text: d => d, frameAnchor: "left", dx: -120, rotate: -90, fontSize: 37, fill: color})
}

const iPanel = panel([0, 690], iTicks, iMinor, 10, [
  Plot.line(iCurve, {x: d => d[0], y: d => d[1], stroke: "black", strokeWidth: 6, curve: "catmull-rom", strokeLinejoin: "round"}),
  yTitle("I (mJy)", "black")
])

const qPanel = panel([-9, 9], polTicks, polMinor, 10, [
  Plot.ruleY([0], {stroke: red, strokeWidth: 1.5, strokeDasharray: "3,5"}),
  Plot.dot(qPoints, {x: "t", y: "v", symbol: "square", r: 3.4, fill: red}),
  Plot.line(qModel, {x: d => d[0], y: d => d[1], stroke: "black", strokeWidth: 2.2, curve: "catmull-rom"}),
  Plot.text(["delay=55m"], {text: d => d, x: 13.45, y: -4.55, textAnchor: "end", fill: red, fontSize: 31}),
  yTitle("Q (mJy)", red)
])

const uPanel = panel([-9, 9], polTicks, polMinor, 110, [
  Plot.ruleY([0], {stroke: blue, strokeWidth: 1.5, strokeDasharray: "3,5"}),
  Plot.dot(uPoints, {x: "t", y: "v", symbol: "square", r: 3.4, fill: blue}),
  Plot.line(uModel, {x: d => d[0], y: d => d[1], stroke: "black", strokeWidth: 2.2, curve: "catmull-rom"}),
  Plot.text(["signflip, delay=55m"], {text: d => d, x: 13.45, y: 5.35, textAnchor: "end", fill: blue, fontSize: 31}),
  Plot.axisX(hourTicks, {anchor: "bottom", tickSize: 0, tickPadding: 24, fontSize: 34, label: null}),
  Plot.text(["Time (hours)"], {text: d => d, frameAnchor: "bottom", dy: 94, fontSize: 38}),
  yTitle("U (mJy)", blue)
])

const chart = d3.select("#chart")
const tops = [50, 406, 762]
;[iPanel, qPanel, uPanel].forEach((svg, k) => {
  svg.style.top = tops[k] + "px"
  chart.append(() => svg)
})
</script>
</body>
</html>
